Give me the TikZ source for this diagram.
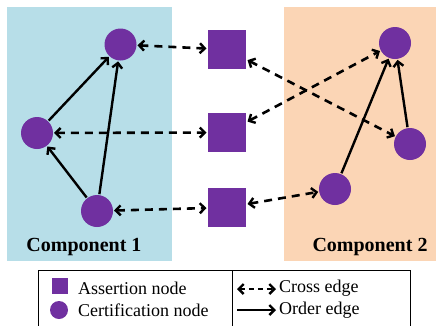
\documentclass[tikz,border=0pt]{standalone}
\usepackage{fontspec}
\setmainfont{Liberation Serif}
\usetikzlibrary{arrows.meta}
\definecolor{nodepurple}{HTML}{7030A0}
\definecolor{panelblue}{HTML}{B7DEE8}
\definecolor{panelpeach}{HTML}{FBD5B5}
\tikzset{barb/.tip={Straight Barb[length=5pt,width=10pt,line width=2.4pt]}}
\begin{document}
\begin{tikzpicture}[x=1pt,y=-1pt,
  cert/.style={circle,fill=nodepurple,minimum size=32pt,inner sep=0pt,outer sep=1pt},
  assert/.style={rectangle,fill=nodepurple,minimum width=38pt,minimum height=39pt,inner sep=0pt,outer sep=1.5pt},
  cross/.style={draw=black,line width=2.6pt,dash pattern=on 8pt off 6pt,barb-barb},
  order/.style={draw=black,line width=2.4pt,-barb},
  comp/.style={font=\fontsize{20}{24}\selectfont\bfseries},
  legtext/.style={font=\fontsize{18}{20}\selectfont,anchor=west,inner sep=0pt}]
\useasboundingbox (0,0) rectangle (438,325);
% component panels
\fill[panelblue] (7,7) rectangle (172,261);
\fill[panelpeach] (284,7) rectangle (436,261);
\node[comp] (c1) at (84,247) {Component 1};
\node[comp] (c2) at (370,247) {Component 2};
% certification nodes of component 1
\node[cert] (a1) at (120.5,44.5) {};
\node[cert] (a2) at (37,133) {};
\node[cert] (a3) at (97,211) {};
% assertion nodes
\node[assert] (s1) at (227,49.5) {};
\node[assert] (s2) at (227,132.5) {};
\node[assert] (s3) at (227,207.5) {};
% certification nodes of component 2
\node[cert] (b1) at (395,43) {};
\node[cert] (b2) at (410,144) {};
\node[cert] (b3) at (335,189) {};
% order edges
\draw[order] (a2) -- (a1);
\draw[order] (a3) -- (a2);
\draw[order] (a3) -- (a1);
\draw[order] (b3) -- (b1);
\draw[order] (b2) -- (b1);
% cross edges
\draw[cross] (a1) -- (s1);
\draw[cross] (a2) -- (s2);
\draw[cross] (a3) -- (s3);
\draw[cross] (s1) -- (b2);
\draw[cross] (s2) -- (b1);
\draw[cross] (s3) -- (b3);
% legend
\draw[line width=0.9pt] (38,270) -- (38,330) (38,270) -- (410,270) -- (410,330) (232,270) -- (232,330);
\node[rectangle,fill=nodepurple,minimum size=16pt,inner sep=0pt] (la) at (59.5,286) {};
\node[circle,fill=nodepurple,minimum size=18pt,inner sep=0pt] (lc) at (59,310) {};
\node[legtext] (ta) at (78,288) {Assertion node};
\node[legtext] (tc) at (78,310) {Certification node};
\coordinate (x1) at (237,289);
\coordinate (x2) at (276,289);
\coordinate (o1) at (237,310);
\coordinate (o2) at (276,310);
\draw[line width=2.6pt,dash pattern=on 5pt off 4pt,barb-barb] (x1) -- (x2);
\draw[line width=2.4pt,-barb] (o1) -- (o2);
\node[legtext] (tx) at (279,288) {Cross edge};
\node[legtext] (to) at (279,310) {Order edge};
\end{tikzpicture}
\end{document}
